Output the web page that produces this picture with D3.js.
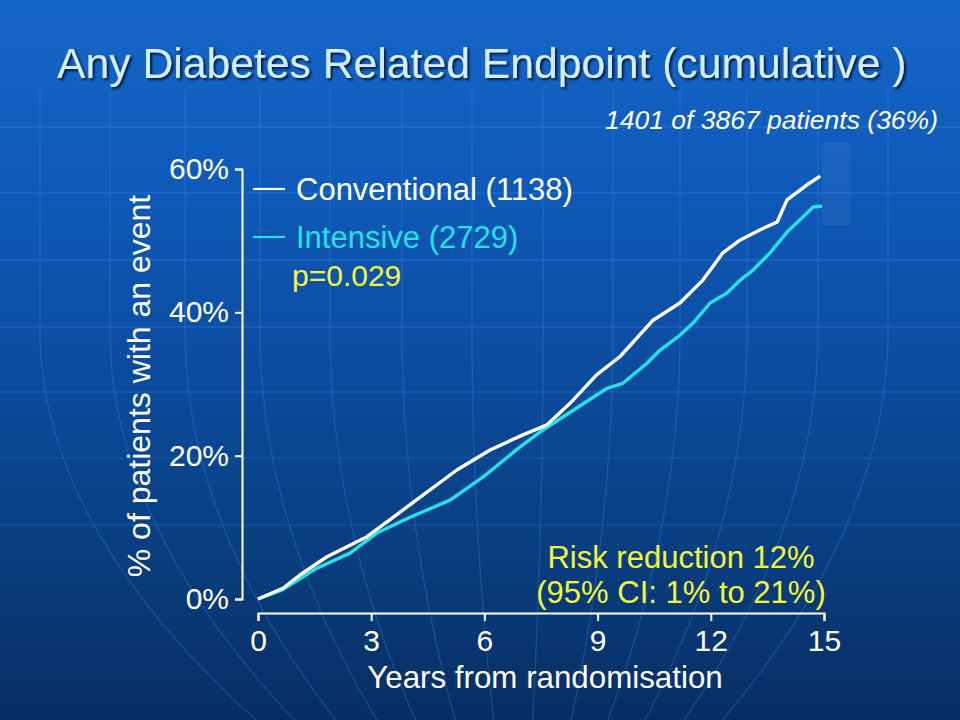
<!DOCTYPE html>
<html>
<head>
<meta charset="utf-8">
<script src="https://cdn.jsdelivr.net/npm/d3@7"></script>
<style>
  html, body { margin: 0; padding: 0; background: #0b4a98; }
  svg { display: block; }
  text { font-family: "Liberation Sans", Arial, sans-serif; }
</style>
</head>
<body>
<svg id="chart" width="960" height="720"></svg>
<script>
// ---- data ----
const titleText = "Any Diabetes Related Endpoint (cumulative )";
const xTicks = [0, 3, 6, 9, 12, 15];
const yTicks = [0, 20, 40, 60];
const seriesNames = ["Conventional (1138)", "Intensive (2729)"];
// [years from randomisation, % of patients with an event]
const conventional = [
  [0, 0], [0.66, 1.5], [1.11, 3.35], [1.83, 5.9], [2.89, 8.7], [3.58, 11.4],
  [4.37, 14.5], [5.27, 18.0], [6.15, 20.8], [7.02, 22.9], [7.66, 24.3],
  [8.27, 27.3], [8.98, 31.3], [9.59, 33.8], [10.47, 38.9], [11.18, 41.3],
  [11.79, 44.5], [12.32, 48.3], [12.78, 50.1], [13.30, 51.5], [13.76, 52.6],
  [14.02, 55.7], [14.55, 57.8], [14.90, 59.0]
];
const intensive = [
  [0, 0], [0.66, 1.3], [1.56, 4.3], [2.44, 6.4], [3.15, 9.2], [4.03, 11.4],
  [5.09, 13.8], [5.96, 17.0], [6.94, 21.2], [7.47, 23.3], [8.08, 25.4],
  [9.25, 29.4], [9.67, 30.1], [10.31, 32.9], [10.65, 34.7], [11.18, 36.8],
  [11.53, 38.5], [11.98, 41.3], [12.43, 42.7], [12.78, 44.5], [13.12, 45.9],
  [13.57, 48.3], [14.02, 51.2], [14.44, 53.3], [14.71, 54.7], [14.95, 54.8]
];
const pValueText = "p=0.029";
const countText = "1401 of 3867 patients (36%)";
const riskLines = ["Risk reduction 12%", "(95% CI: 1% to 21%)"];
const xTitle = "Years from randomisation";
const yTitle = "% of patients with an event";

// ---- drawing ----
const svg = d3.select("#chart");
const W = 960, H = 720;

const defs = svg.append("defs");
const grad = defs.append("linearGradient").attr("id", "bg")
  .attr("x1", 0).attr("y1", 0).attr("x2", 0).attr("y2", 1);
[["0%", "#1566c9"], ["25%", "#0f5aba"], ["55%", "#0b4a9a"], ["80%", "#093c7c"], ["100%", "#072e62"]]
  .forEach(([o, c]) => grad.append("stop").attr("offset", o).attr("stop-color", c));
const shadow = defs.append("filter").attr("id", "shadow")
  .attr("x", "-5%").attr("y", "-20%").attr("width", "110%").attr("height", "150%");
shadow.append("feDropShadow").attr("dx", 2).attr("dy", 2).attr("stdDeviation", 0.8)
  .attr("flood-color", "#06163a").attr("flood-opacity", 0.95);

svg.append("rect").attr("width", W).attr("height", H).attr("fill", "url(#bg)");

// faint globe-like background grid
const deco = svg.append("g").attr("stroke", "#3f8ff0").attr("stroke-opacity", 0.3)
  .attr("fill", "none").attr("stroke-width", 1.5);
[127, 193, 260, 327, 392, 458, 525].forEach(yy => {
  deco.append("line").attr("x1", 0).attr("x2", W).attr("y1", yy).attr("y2", yy)
    .attr("stroke-opacity", yy > 400 ? 0.2 : 0.3);
});
const cx = 520;
[40, 110, 185, 260, 330, 402, 472, 543, 613, 680, 747, 818, 888].forEach(x0 => {
  const pts = d3.range(90, 721, 10).map(yy => {
    const t = Math.max(0, (yy - 330) / 390);
    return [cx + (x0 - cx) * (1 - 0.45 * t * t), yy];
  });
  deco.append("path").attr("d", d3.line()(pts)).attr("stroke-opacity", 0.25);
});
svg.append("rect").attr("x", 822).attr("y", 143).attr("width", 28).attr("height", 82)
  .attr("fill", "#ffffff").attr("fill-opacity", 0.05);

// title
svg.append("text").attr("x", 57).attr("y", 78).attr("font-size", 42.7)
  .attr("fill", "#d4eeff").attr("filter", "url(#shadow)").text(titleText);

// scales
const x = d3.scaleLinear().domain([0, 15]).range([258, 824]);
const y = d3.scaleLinear().domain([0, 60]).range([599, 169]);

// y axis
const yAxis = svg.append("g").attr("transform", "translate(242,0)")
  .call(d3.axisLeft(y).tickValues(yTicks).tickSize(7).tickPadding(6).tickFormat(d => d + "%"));
yAxis.selectAll("path, line").attr("stroke", "#ffffff").attr("stroke-width", 2);
yAxis.selectAll("text").attr("fill", "#ffffff").attr("font-size", 30)
  .attr("font-family", "Liberation Sans, Arial, sans-serif");

// x axis
const xAxis = svg.append("g").attr("transform", "translate(0,613)")
  .call(d3.axisBottom(x).tickValues(xTicks).tickSize(8).tickSizeOuter(8));
xAxis.selectAll("path, line").attr("stroke", "#ffffff").attr("stroke-width", 2);
xAxis.selectAll("text").attr("fill", "#ffffff").attr("font-size", 30)
  .attr("font-family", "Liberation Sans, Arial, sans-serif")
  .attr("y", 38).attr("dy", 0);

// axis titles
svg.append("text").attr("x", 545).attr("y", 688).attr("text-anchor", "middle")
  .attr("font-size", 31.3).attr("fill", "#ffffff").text(xTitle);
svg.append("text").attr("transform", "translate(150,386) rotate(-90)")
  .attr("text-anchor", "middle").attr("font-size", 32).attr("fill", "#ffffff").text(yTitle);

// curves
const line = d3.line().x(d => x(d[0])).y(d => y(d[1])).curve(d3.curveLinear);
svg.append("path").datum(intensive).attr("d", line).attr("fill", "none")
  .attr("stroke", "#22e2ea").attr("stroke-width", 3.4).attr("stroke-linejoin", "round");
svg.append("path").datum(conventional).attr("d", line).attr("fill", "none")
  .attr("stroke", "#ffffff").attr("stroke-width", 3.4).attr("stroke-linejoin", "round");

// legend
const legendColors = ["#ffffff", "#22e2ea"];
const legend = svg.append("g");
seriesNames.forEach((name, i) => {
  const yy = 189 + i * 48;
  legend.append("line").attr("x1", 253).attr("x2", 285).attr("y1", yy).attr("y2", yy)
    .attr("stroke", legendColors[i]).attr("stroke-width", 2.2);
  legend.append("text").attr("x", 296).attr("y", yy + 11).attr("font-size", 31)
    .attr("fill", legendColors[i]).text(name);
});
legend.append("text").attr("x", 292).attr("y", 286).attr("font-size", 30)
  .attr("fill", "#f5f53c").text(pValueText);

// count text
svg.append("text").attr("x", 938).attr("y", 129).attr("text-anchor", "end")
  .attr("font-size", 26.5).attr("font-style", "italic").attr("fill", "#ffffff").text(countText);

// risk reduction
riskLines.forEach((t, i) => {
  svg.append("text").attr("x", 681).attr("y", 568 + i * 35).attr("text-anchor", "middle")
    .attr("font-size", 31).attr("fill", "#f5f53c").text(t);
});
</script>
</body>
</html>
